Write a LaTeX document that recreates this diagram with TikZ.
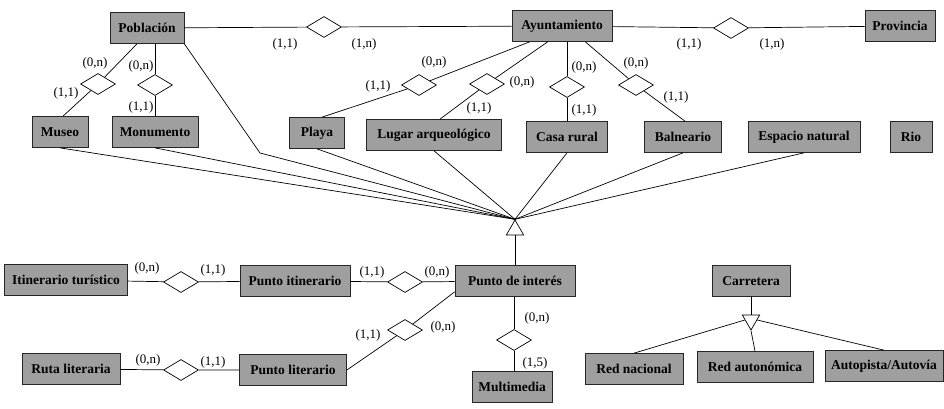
\documentclass[tikz,border=0pt]{standalone}
\usepackage{fontspec}
\setmainfont{Liberation Serif}
\usepackage{xcolor}
\usepackage{tikz}
\usetikzlibrary{
  positioning,
  calc,
  shapes.geometric
}

\tikzset{
  entity/.style={draw=black!85, line width=0.7pt, fill=gray!75, inner sep=2pt,
    minimum height=31pt, font=\bfseries\fontsize{13.5}{13.5}\selectfont},
  relation/.style={draw, line width=0.7pt, fill=white, shape=diamond, inner sep=0pt,
    minimum width=35pt, minimum height=21pt},
  isa/.style={draw, line width=0.7pt, fill=white, regular polygon,
    regular polygon sides=3, inner sep=0pt, minimum size=20pt},
  card/.style={inner sep=0pt, font=\fontsize{13}{13}\selectfont},
  link/.style={draw, line width=0.7pt}
}

\begin{document}
\begin{tikzpicture}[x=1pt,y=-1pt]
  \useasboundingbox (0,0) rectangle (944,409);

  % 上段の実体
  \node[entity, minimum width=74pt]  (pob)  at (147,28)  {Población};
  \node[entity, minimum width=100pt] (ayu)  at (562,26)  {Ayuntamiento};
  \node[entity, minimum width=70pt]  (prov) at (900,26)  {Provincia};

  % 中段の実体
  \node[entity, minimum width=56pt]  (mus)  at (60,132)  {Museo};
  \node[entity, minimum width=86pt]  (mon)  at (155,132) {Monumento};
  \node[entity, minimum width=55pt]  (pla)  at (317,133) {Playa};
  \node[entity, minimum width=135pt] (lug)  at (434,135) {Lugar arqueológico};
  \node[entity, minimum width=81pt]  (cas)  at (567,137) {Casa rural};
  \node[entity, minimum width=77pt]  (bal)  at (683,137) {Balneario};
  \node[entity, minimum width=112pt] (esp)  at (804,137) {Espacio natural};
  \node[entity, minimum width=42pt]  (rio)  at (911,137) {Rio};

  % 下段の実体
  \node[entity, minimum width=123pt] (itin) at (66,280)  {Itinerario turístico};
  \node[entity, minimum width=110pt] (pit)  at (295,281) {Punto itinerario};
  \node[entity, minimum width=120pt] (pint) at (515,281) {Punto de interés};
  \node[entity, minimum width=78pt]  (car)  at (751,281) {Carretera};
  \node[entity, minimum width=98pt]  (ruta) at (71,369)  {Ruta literaria};
  \node[entity, minimum width=107pt] (plit) at (293,370) {Punto literario};
  \node[entity, minimum width=80pt]  (mult) at (512,387) {Multimedia};
  \node[entity, minimum width=98pt]  (rnac) at (634,369) {Red nacional};
  \node[entity, minimum width=116pt] (raut) at (755,367) {Red autonómica};
  \node[entity, minimum width=118pt] (apt)  at (884,366) {Autopista/Autovía};

  % 関連
  \node[relation] (rpa)  at (324,27)  {};
  \node[relation] (rap)  at (731,28)  {};
  \node[relation] (rmus) at (98,84)   {};
  \node[relation] (rmon) at (155,85)  {};
  \node[relation] (rpla) at (419,85)  {};
  \node[relation] (rlug) at (487,84)  {};
  \node[relation] (rcas) at (567,87)  {};
  \node[relation] (rbal) at (636,85)  {};
  \node[relation] (rit)  at (181,282) {};
  \node[relation] (rpi)  at (405,282) {};
  \node[relation] (rlit) at (181,370) {};
  \node[relation] (rpl)  at (405,330) {};
  \node[relation] (rmul) at (514,340) {};

  % 汎化
  \node[isa] (isa) at (515,230) {};
  \node[isa, shape border rotate=180] (isb) at (751,320) {};
  \coordinate (pobbend) at (260,153);

  % 関連を結ぶ
  \draw[link] (pob) -- (rpa) -- (ayu);
  \draw[link] (ayu) -- (rap) -- (prov);
  \draw[link] ([xshift=-10pt]pob.south) -- (rmus) -- ([xshift=3pt]mus.north);
  \draw[link] (rmon |- pob.south) -- (rmon) -- (rmon |- mon.north);
  \draw[link] ([xshift=18pt]ayu.south west) -- (rpla) -- ([xshift=5pt]pla.north);
  \draw[link] ([xshift=36pt]ayu.south west) -- (rlug) -- ([xshift=6pt]lug.north);
  \draw[link] (rcas |- ayu.south) -- (rcas) -- (rcas |- cas.north);
  \draw[link] ([xshift=-27pt]ayu.south east) -- (rbal) -- ([xshift=2pt]bal.north);
  \draw[link] (itin) -- (rit) -- (pit);
  \draw[link] (pit) -- (rpi) -- (pint);
  \draw[link] (ruta) -- (rlit) -- (plit);
  \draw[link] (plit.east) -- (rpl) -- ([yshift=5pt]pint.south west);
  \draw[link] (rmul |- pint.south) -- (rmul) -- (rmul |- mult.north);

  % 汎化の線
  \foreach \e in {mus,mon,pla,lug,cas,bal,esp}
    \draw[link] (\e.south) -- (isa.corner 1);
  \draw[link] (pob.south east) -- (pobbend) -- (isa.corner 1);
  \draw[link] (isa.south) -- (isa |- pint.north);
  \draw[link] (car.south) -- (isb.north);
  \draw[link] (isb.west) -- (rnac.north);
  \draw[link] (isb.corner 1) -- (raut.north);
  \draw[link] (isb.east) -- (apt.north);

  % 濃度
  \node[card] (c1)  at (285,44)  {(1,1)};
  \node[card] (c2)  at (364,44)  {(1,n)};
  \node[card] (c3)  at (689,44)  {(1,1)};
  \node[card] (c4)  at (772,44)  {(1,n)};
  \node[card] (c5)  at (95,63)   {(0,n)};
  \node[card] (c6)  at (66,93)   {(1,1)};
  \node[card] (c7)  at (141,66)  {(0,n)};
  \node[card] (c8)  at (141,107) {(1,1)};
  \node[card] (c9)  at (434,62)  {(0,n)};
  \node[card] (c10) at (378,86)  {(1,1)};
  \node[card] (c11) at (522,82)  {(0,n)};
  \node[card] (c12) at (479,108) {(1,1)};
  \node[card] (c13) at (584,67)  {(0,n)};
  \node[card] (c14) at (584,110) {(1,1)};
  \node[card] (c15) at (636,63)  {(0,n)};
  \node[card] (c16) at (676,97)  {(1,1)};
  \node[card] (c17) at (147,268) {(0,n)};
  \node[card] (c18) at (213,270) {(1,1)};
  \node[card] (c19) at (372,272) {(1,1)};
  \node[card] (c20) at (437,272) {(0,n)};
  \node[card] (c21) at (148,360) {(0,n)};
  \node[card] (c22) at (213,362) {(1,1)};
  \node[card] (c23) at (368,335) {(1,1)};
  \node[card] (c24) at (443,327) {(0,n)};
  \node[card] (c25) at (537,318) {(0,n)};
  \node[card] (c26) at (535,363) {(1,5)};
\end{tikzpicture}
\end{document}
